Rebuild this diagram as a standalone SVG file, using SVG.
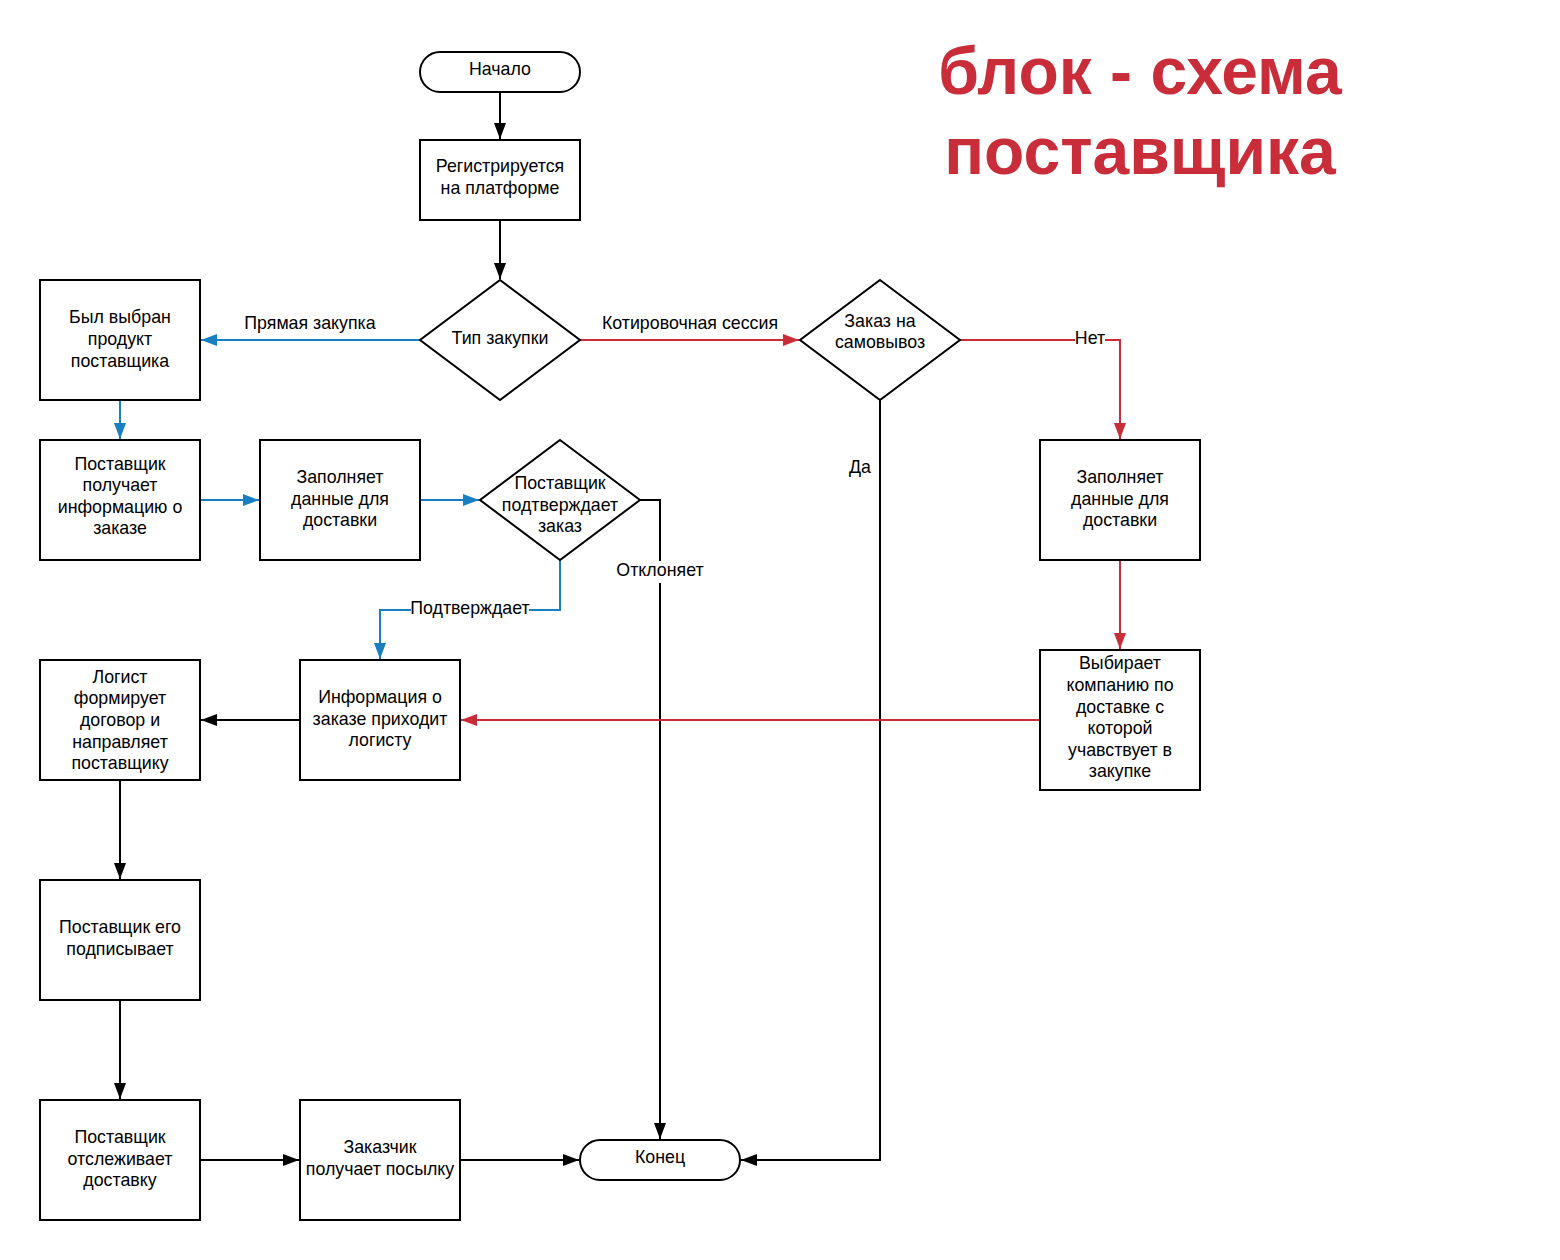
<svg xmlns="http://www.w3.org/2000/svg" width="1560" height="1260" viewBox="0 0 1560 1260">
<style>
.n{fill:#fff;stroke:#000;stroke-width:2}
.t{font-family:"Liberation Sans",Arial,sans-serif;font-size:17.8px;fill:#000;text-anchor:middle}
.c{fill:none;stroke-width:2}
.k{stroke:#000}
.b{stroke:#1a7fc1}
.r{stroke:#c92d39}
.title{font-family:"Liberation Sans",Arial,sans-serif;font-weight:bold;font-size:66px;fill:#c92d39;text-anchor:middle}
.lb{fill:#fff}
</style>
<defs>
<marker id="ak" viewBox="0 0 16 12" refX="16" refY="6" markerWidth="16" markerHeight="12" markerUnits="userSpaceOnUse" orient="auto"><path d="M0,0L16,6L0,12z" fill="#000"/></marker>
<marker id="ab" viewBox="0 0 16 12" refX="16" refY="6" markerWidth="16" markerHeight="12" markerUnits="userSpaceOnUse" orient="auto"><path d="M0,0L16,6L0,12z" fill="#1a7fc1"/></marker>
<marker id="ar" viewBox="0 0 16 12" refX="16" refY="6" markerWidth="16" markerHeight="12" markerUnits="userSpaceOnUse" orient="auto"><path d="M0,0L16,6L0,12z" fill="#c92d39"/></marker>
</defs>
<rect width="1560" height="1260" fill="#fff"/>
<g id="title">
<text class="title" x="1140" y="94">блок - схема</text>
<text class="title" x="1140" y="174">поставщика</text>
</g>
<g id="connectors">
<path class="c k" d="M500,92V139" marker-end="url(#ak)"/>
<path class="c k" d="M500,220V279" marker-end="url(#ak)"/>
<path class="c b" d="M420,340H201" marker-end="url(#ab)"/>
<path class="c r" d="M580,340H799" marker-end="url(#ar)"/>
<path class="c r" d="M960,340H1120V439" marker-end="url(#ar)"/>
<path class="c k" d="M880,400V1160H741" marker-end="url(#ak)"/>
<path class="c b" d="M120,400V439" marker-end="url(#ab)"/>
<path class="c b" d="M200,500H259" marker-end="url(#ab)"/>
<path class="c b" d="M420,500H479" marker-end="url(#ab)"/>
<path class="c k" d="M640,500H660V1139" marker-end="url(#ak)"/>
<path class="c b" d="M560,560V610H380V659" marker-end="url(#ab)"/>
<path class="c r" d="M1120,560V649" marker-end="url(#ar)"/>
<path class="c r" d="M1040,720H461" marker-end="url(#ar)"/>
<path class="c k" d="M300,720H201" marker-end="url(#ak)"/>
<path class="c k" d="M120,780V879" marker-end="url(#ak)"/>
<path class="c k" d="M120,1000V1099" marker-end="url(#ak)"/>
<path class="c k" d="M200,1160H299" marker-end="url(#ak)"/>
<path class="c k" d="M460,1160H579" marker-end="url(#ak)"/>
<text class="t" x="310" y="329">Прямая закупка</text>
<text class="t" x="690" y="329">Котировочная сессия</text>
<rect class="lb" x="1075" y="330" width="30" height="18"/>
<text class="t" x="1090" y="344">Нет</text>
<text class="t" x="860" y="473">Да</text>
<rect class="lb" x="614" y="561" width="92" height="22"/>
<text class="t" x="660" y="576">Отклоняет</text>
<rect class="lb" x="411" y="599" width="118" height="18"/>
<text class="t" x="470" y="614">Подтверждает</text>
</g>
<g id="start"><rect class="n" x="420" y="52" width="160" height="40" rx="20"/><text class="t" x="500" y="75">Начало</text></g>
<g id="register"><rect class="n" x="420" y="140" width="160" height="80"/><text class="t" x="500" y="172">Регистрируется</text><text class="t" x="500" y="194">на платформе</text></g>
<g id="type"><path class="n" d="M500,280L580,340L500,400L420,340z"/><text class="t" x="500" y="344">Тип закупки</text></g>
<g id="chosen"><rect class="n" x="40" y="280" width="160" height="120"/><text class="t" x="120" y="323">Был выбран</text><text class="t" x="120" y="345">продукт</text><text class="t" x="120" y="367">поставщика</text></g>
<g id="receives"><rect class="n" x="40" y="440" width="160" height="120"/><text class="t" x="120" y="470">Поставщик</text><text class="t" x="120" y="491">получает</text><text class="t" x="120" y="513">информацию о</text><text class="t" x="120" y="534">заказе</text></g>
<g id="fill1"><rect class="n" x="260" y="440" width="160" height="120"/><text class="t" x="340" y="483">Заполняет</text><text class="t" x="340" y="505">данные для</text><text class="t" x="340" y="526">доставки</text></g>
<g id="confirm"><path class="n" d="M560,440L640,500L560,560L480,500z"/><text class="t" x="560" y="489">Поставщик</text><text class="t" x="560" y="511">подтверждает</text><text class="t" x="560" y="532">заказ</text></g>
<g id="pickup"><path class="n" d="M880,280L960,340L880,400L800,340z"/><text class="t" x="880" y="327">Заказ на</text><text class="t" x="880" y="348">самовывоз</text></g>
<g id="fill2"><rect class="n" x="1040" y="440" width="160" height="120"/><text class="t" x="1120" y="483">Заполняет</text><text class="t" x="1120" y="505">данные для</text><text class="t" x="1120" y="526">доставки</text></g>
<g id="choose"><rect class="n" x="1040" y="650" width="160" height="140"/><text class="t" x="1120" y="669">Выбирает</text><text class="t" x="1120" y="691">компанию по</text><text class="t" x="1120" y="713">доставке с</text><text class="t" x="1120" y="734">которой</text><text class="t" x="1120" y="756">учавствует в</text><text class="t" x="1120" y="777">закупке</text></g>
<g id="info"><rect class="n" x="300" y="660" width="160" height="120"/><text class="t" x="380" y="703">Информация о</text><text class="t" x="380" y="725">заказе приходит</text><text class="t" x="380" y="746">логисту</text></g>
<g id="logist"><rect class="n" x="40" y="660" width="160" height="120"/><text class="t" x="120" y="683">Логист</text><text class="t" x="120" y="704">формирует</text><text class="t" x="120" y="726">договор и</text><text class="t" x="120" y="748">направляет</text><text class="t" x="120" y="769">поставщику</text></g>
<g id="sign"><rect class="n" x="40" y="880" width="160" height="120"/><text class="t" x="120" y="933">Поставщик его</text><text class="t" x="120" y="955">подписывает</text></g>
<g id="track"><rect class="n" x="40" y="1100" width="160" height="120"/><text class="t" x="120" y="1143">Поставщик</text><text class="t" x="120" y="1165">отслеживает</text><text class="t" x="120" y="1186">доставку</text></g>
<g id="customer"><rect class="n" x="300" y="1100" width="160" height="120"/><text class="t" x="380" y="1153">Заказчик</text><text class="t" x="380" y="1175">получает посылку</text></g>
<g id="end"><rect class="n" x="580" y="1140" width="160" height="40" rx="20"/><text class="t" x="660" y="1163">Конец</text></g>
</svg>
